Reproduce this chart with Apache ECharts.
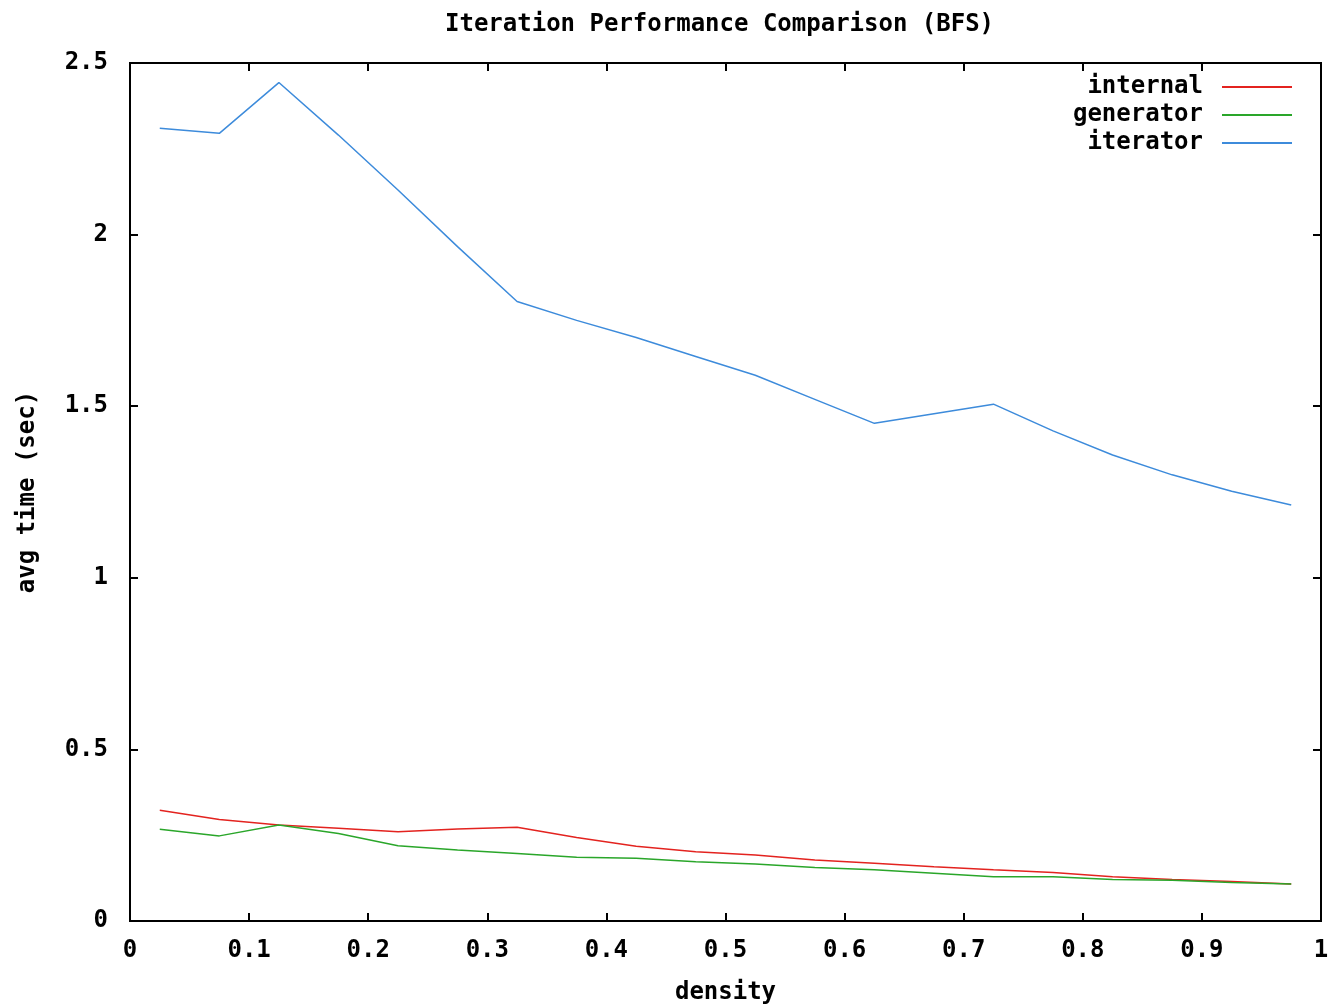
<!DOCTYPE html>
<html>
<head>
<meta charset="utf-8">
<script src="https://cdn.jsdelivr.net/npm/echarts@6/dist/echarts.min.js"></script>
<style>
html,body{margin:0;padding:0;background:#fff;}
#chart{width:1337px;height:1008px;}
</style>
</head>
<body>
<div id="chart"></div>
<script>
// ---- data ----
var density = [0.025, 0.075, 0.125, 0.175, 0.225, 0.275, 0.325, 0.375, 0.425, 0.475,
               0.525, 0.575, 0.625, 0.675, 0.725, 0.775, 0.825, 0.875, 0.925, 0.975];
var internalTimes = [0.323, 0.296, 0.280, 0.270, 0.260, 0.268, 0.273, 0.243, 0.218, 0.202,
                     0.192, 0.178, 0.168, 0.158, 0.149, 0.141, 0.129, 0.121, 0.115, 0.108];
var generatorTimes = [0.267, 0.248, 0.280, 0.255, 0.219, 0.207, 0.197, 0.186, 0.183, 0.173,
                      0.166, 0.156, 0.149, 0.139, 0.129, 0.129, 0.121, 0.119, 0.112, 0.108];
var iteratorTimes = [2.310, 2.295, 2.443, 2.290, 2.130, 1.965, 1.805, 1.750, 1.700, 1.645,
                     1.590, 1.520, 1.450, 1.478, 1.506, 1.428, 1.358, 1.300, 1.252, 1.212];
var seriesNames = ['internal', 'generator', 'iterator'];
var xTickLabels = ['0', '0.1', '0.2', '0.3', '0.4', '0.5', '0.6', '0.7', '0.8', '0.9', '1'];
var yTickLabels = ['0', '0.5', '1', '1.5', '2', '2.5'];

function pairs(ys) { return density.map(function (x, i) { return [x, ys[i]]; }); }

var FONT = '"DejaVu Sans Mono", "Liberation Mono", monospace';
var tickFont = { fontFamily: FONT, fontWeight: 'bold', fontSize: 24, color: '#000' };

function xAxisDef(pos, showLabel) {
  return {
    type: 'value', position: pos, min: 0, max: 1, interval: 0.1,
    name: showLabel ? 'density' : '', nameLocation: 'middle', nameGap: 60,
    nameTextStyle: tickFont,
    axisLine: { show: true, onZero: false, lineStyle: { color: '#000', width: 2 } },
    axisTick: { show: true, inside: true, length: 8, lineStyle: { color: '#000', width: 2 } },
    axisLabel: {
      show: showLabel, margin: 18, fontFamily: FONT, fontWeight: 'bold', fontSize: 24, color: '#000',
      formatter: function (v) { return xTickLabels[Math.round(v * 10)]; }
    },
    splitLine: { show: false }
  };
}
function yAxisDef(pos, showLabel) {
  return {
    type: 'value', position: pos, min: 0, max: 2.5, interval: 0.5,
    name: showLabel ? 'avg time (sec)' : '', nameLocation: 'middle', nameGap: 90, nameRotate: 90,
    nameTextStyle: tickFont,
    axisLine: { show: true, onZero: false, lineStyle: { color: '#000', width: 2 } },
    axisTick: { show: true, inside: true, length: 8, lineStyle: { color: '#000', width: 2 } },
    axisLabel: {
      show: showLabel, margin: 22, fontFamily: FONT, fontWeight: 'bold', fontSize: 24, color: '#000',
      formatter: function (v) { return yTickLabels[Math.round(v * 2)]; }
    },
    splitLine: { show: false }
  };
}

var colors = ['#e3231f', '#2aa62a', '#3d8bdb'];
var dataSets = [internalTimes, generatorTimes, iteratorTimes];

var chart = echarts.init(document.getElementById('chart'), null, { renderer: 'canvas' });
chart.setOption({
  animation: false,
  backgroundColor: '#fff',
  title: {
    text: 'Iteration Performance Comparison (BFS)', left: 440, top: 8,
    textStyle: { fontFamily: FONT, fontWeight: 'bold', fontSize: 24, color: '#000' }
  },
  grid: { left: 130, right: 16, top: 63, bottom: 87, containLabel: false, outerBoundsMode: 'none',
          show: true, borderColor: '#000', borderWidth: 2, backgroundColor: 'transparent' },
  legend: {
    orient: 'vertical', right: 40, top: 70, align: 'right',
    itemWidth: 70, itemHeight: 2, itemGap: 4, icon: 'rect',
    data: seriesNames,
    textStyle: { fontFamily: FONT, fontWeight: 'bold', fontSize: 24, color: '#000', padding: [0, 14, 0, 0] }
  },
  xAxis: [xAxisDef('bottom', true), xAxisDef('top', false)],
  yAxis: [yAxisDef('left', true), yAxisDef('right', false)],
  series: seriesNames.map(function (n, i) {
    return {
      name: n, type: 'line', xAxisIndex: 0, yAxisIndex: 0,
      data: pairs(dataSets[i]), showSymbol: false, symbol: 'none',
      itemStyle: { color: colors[i] },
      lineStyle: { color: colors[i], width: 1.5 }
    };
  })
});
</script>
</body>
</html>
